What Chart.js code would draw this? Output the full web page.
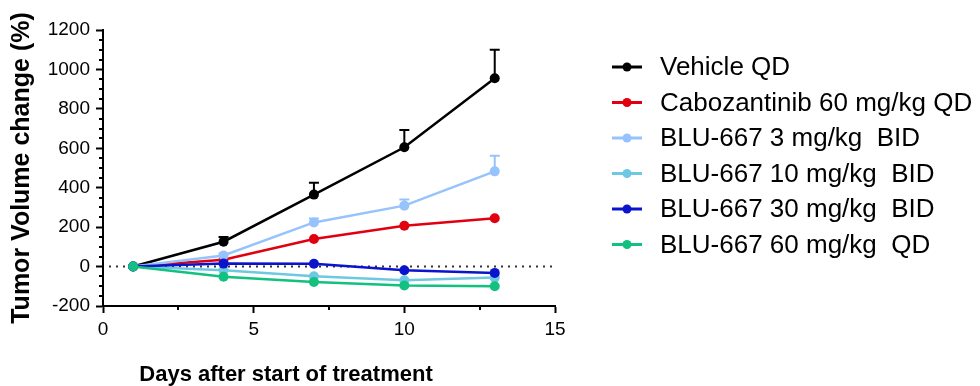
<!DOCTYPE html>
<html>
<head>
<meta charset="utf-8">
<script src="https://cdn.jsdelivr.net/npm/chart.js@4.4.1/dist/chart.umd.min.js"></script>
<style>
  html, body { margin: 0; padding: 0; background: #fff; }
  #wrap { width: 980px; height: 386px; }
</style>
</head>
<body>
<div id="wrap"><canvas id="c" width="980" height="386"></canvas></div>
<script>
// data
const days = [1, 4, 7, 10, 13];
const vehicle   = [0, 126, 365, 605, 955];
const cabo60    = [0, 35, 140, 207, 245];
const blu3      = [0, 56, 224, 309, 483];
const blu10     = [0, -19, -49, -69, -56];
const blu30     = [0, 15, 14, -19, -32];
const blu60     = [0, -52, -78, -96, -100];
// upper error bars (SEM)
const vehicleErr = [0, 24, 60, 88, 145];
const blu3Err    = [0, 10, 20, 31, 79];

const yTicks = [-200, 0, 200, 400, 600, 800, 1000, 1200];
const xTicks = [0, 5, 10, 15];

const SERIES = [
  { label: 'Vehicle QD',               data: vehicle, err: vehicleErr, color: '#000000' },
  { label: 'Cabozantinib 60 mg/kg QD', data: cabo60,  err: null,       color: '#e0000f' },
  { label: 'BLU-667 3 mg/kg  BID',     data: blu3,    err: blu3Err,    color: '#96c3fb' },
  { label: 'BLU-667 10 mg/kg  BID',    data: blu10,   err: null,       color: '#6fc8e2' },
  { label: 'BLU-667 30 mg/kg  BID',    data: blu30,   err: null,       color: '#0a14cc' },
  { label: 'BLU-667 60 mg/kg  QD',     data: blu60,   err: null,       color: '#12c080' },
];

const FONT = '"Liberation Sans", Arial, sans-serif';

// dotted zero line, error bars, minor ticks, titles, legend
const extras = {
  id: 'extras',
  beforeDatasetsDraw(chart) {
    const { ctx, scales: { x, y } } = chart;
    ctx.save();
    ctx.strokeStyle = '#333';
    ctx.lineWidth = 2;
    ctx.setLineDash([2, 5]);
    ctx.beginPath();
    ctx.moveTo(x.getPixelForValue(0) + 6, y.getPixelForValue(0));
    ctx.lineTo(x.getPixelForValue(15), y.getPixelForValue(0));
    ctx.stroke();
    ctx.setLineDash([]);

    // error bars (up only)
    SERIES.forEach(s => {
      if (!s.err) return;
      ctx.strokeStyle = s.color;
      ctx.lineWidth = 2;
      days.forEach((d, i) => {
        if (!s.err[i]) return;
        const px = x.getPixelForValue(d);
        const p0 = y.getPixelForValue(s.data[i]);
        const p1 = y.getPixelForValue(s.data[i] + s.err[i]);
        ctx.beginPath();
        ctx.moveTo(px, p0);
        ctx.lineTo(px, p1);
        ctx.moveTo(px - 5, p1);
        ctx.lineTo(px + 5, p1);
        ctx.stroke();
      });
    });
    ctx.restore();
  },
  afterDraw(chart) {
    const { ctx, scales: { x, y } } = chart;
    ctx.save();
    ctx.strokeStyle = '#000';
    ctx.lineWidth = 2;
    // minor y ticks every 50
    const xl = x.left;
    for (let v = -200; v <= 1200; v += 50) {
      if (v % 200 === 0) continue;
      const py = Math.round(y.getPixelForValue(v));
      ctx.beginPath();
      ctx.moveTo(xl - 4, py);
      ctx.lineTo(xl, py);
      ctx.stroke();
    }
    // minor x ticks every 2.5
    const yb = y.bottom;
    for (let v = 2.5; v < 15; v += 5) {
      const px = Math.round(x.getPixelForValue(v));
      ctx.beginPath();
      ctx.moveTo(px, yb);
      ctx.lineTo(px, yb + 4);
      ctx.stroke();
    }

    // axis titles
    ctx.fillStyle = '#000';
    ctx.font = 'bold 22px ' + FONT;
    ctx.textAlign = 'center';
    ctx.textBaseline = 'middle';
    ctx.fillText('Days after start of treatment', 286, 375);

    ctx.save();
    ctx.translate(22, 168);
    ctx.rotate(-Math.PI / 2);
    ctx.font = 'bold 25px ' + FONT;
    ctx.fillText('Tumor Volume change (%)', 0, 0);
    ctx.restore();

    // legend
    ctx.font = '26px ' + FONT;
    ctx.textAlign = 'left';
    SERIES.forEach((s, i) => {
      const cy = 67 + i * 35.5;
      ctx.strokeStyle = s.color;
      ctx.fillStyle = s.color;
      ctx.lineWidth = 3;
      ctx.beginPath();
      ctx.moveTo(612, cy);
      ctx.lineTo(642, cy);
      ctx.stroke();
      ctx.beginPath();
      ctx.arc(627, cy, 4.5, 0, Math.PI * 2);
      ctx.fill();
      ctx.fillStyle = '#000';
      ctx.fillText(s.label, 660, cy + 1);
    });
    ctx.restore();
  }
};

new Chart(document.getElementById('c'), {
  type: 'line',
  data: {
    datasets: SERIES.map(s => ({
      label: s.label,
      data: days.map((d, i) => ({ x: d, y: s.data[i] })),
      borderColor: s.color,
      backgroundColor: s.color,
      borderWidth: 2.5,
      pointRadius: 5,
      pointBackgroundColor: s.color,
      pointBorderWidth: 0,
      tension: 0
    })).reverse()
  },
  options: {
    responsive: false,
    animation: false,
    layout: { padding: { top: 30, right: 425, left: 0, bottom: 0 } },
    plugins: { legend: { display: false }, tooltip: { enabled: false } },
    scales: {
      x: {
        type: 'linear',
        min: 0, max: 15,
        afterBuildTicks: s => { s.ticks = xTicks.map(v => ({ value: v })); },
        afterFit: s => { s.height = 80; },
        grid: { drawOnChartArea: false, drawTicks: true, tickLength: 7, tickWidth: 2, tickColor: '#000' },
        border: { color: '#000', width: 2 },
        ticks: { color: '#000', font: { family: FONT, size: 19 }, padding: 5, callback: v => String(v) }
      },
      y: {
        min: -200, max: 1200,
        afterBuildTicks: s => { s.ticks = yTicks.map(v => ({ value: v })); },
        afterFit: s => { s.width = 103; },
        grid: { drawOnChartArea: false, drawTicks: true, tickLength: 7, tickWidth: 2, tickColor: '#000' },
        border: { color: '#000', width: 2 },
        ticks: { color: '#000', font: { family: FONT, size: 19 }, padding: 6, callback: v => String(v) }
      }
    }
  },
  plugins: [extras]
});
</script>
</body>
</html>
